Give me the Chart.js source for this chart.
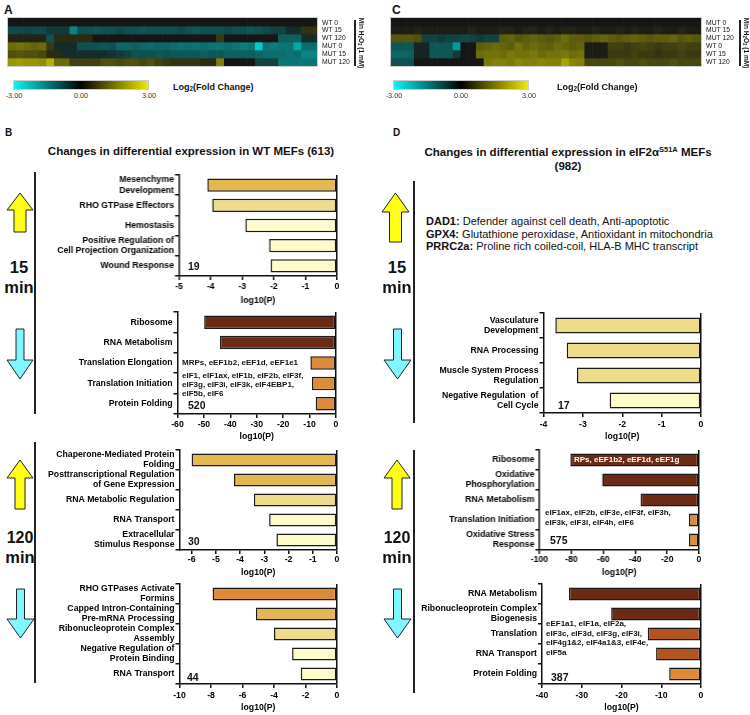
<!DOCTYPE html>
<html>
<head>
<meta charset="utf-8">
<script src="https://cdn.jsdelivr.net/npm/chart.js@4.4.0/dist/chart.umd.min.js"></script>
<style>
body { margin: 0; background: #fff; font-family: "Liberation Sans", Arial, sans-serif; color: #111; }
#fig { position: relative; width: 750px; height: 715px; overflow: hidden; }
#fig canvas { position: absolute; }
.t { position: absolute; white-space: nowrap; line-height: 1; }
.vline { position: absolute; width: 1.5px; background: #222; }
.cbar { position: absolute; height: 10px; border: 1px solid #ccc; box-sizing: border-box;
        background: linear-gradient(to right, #10f4f4, #000 50%, #eeea00); }
sub { font-size: 70%; vertical-align: -1px; }
sup { font-size: 65%; vertical-align: 4px; }
</style>
</head>
<body>
<div id="fig"></div>
<script>
const rowsA = ['WT 0', 'WT 15', 'WT 120', 'MUT 0', 'MUT 15', 'MUT 120'];
const wt0A   = [0,0,0,0,0,0,0,0,0,0, 0,0,0,0,0,0,0,0,0,0, 0,0,0,0,0,0,0,0,0,0, 0,0,0,0,0,0,0,0,0,0];
const wt15A  = [-0.7,-0.7,-0.6,-0.7,-0.7,-0.5,-0.5,-0.5,-1.5,-0.8, -0.8,-0.9,-0.8,-0.8,-0.7,-0.8,-0.8,-0.9,-0.8,-0.8, -0.8,-0.8,-0.7,-0.8,-0.9,-0.8,-0.8,-0.8,-0.7,-0.8, -0.8,-0.9,-0.8,-0.7,-0.6,-0.6,-0.3,-0.3,0.4,0.4];
const wt120A = [0.2,0.2,0.2,0.2,0.2,-0.8,0.3,0.3,0.3,0.3, 0.3,0,0,0,0,0,0,0,0,0, 0,0,0,0,0,0,0,0.5,0,0, 0,0,0,0,0,-1.0,-1.0,-1.0,-0.3,-0.3];
const mut0A  = [1.2,1.3,1.2,1.1,1.2,0.5,-0.3,-0.3,-0.3,-0.8, -0.8,-0.8,-0.9,-0.8,-1.1,-1.1,-1.0,-1.1,-1.2,-1.1, -1.1,-1.2,-1.3,-1.2,-1.3,-1.2,-1.3,-1.3,-1.2,-1.3, -1.4,-1.3,-2.5,-1.3,-1.4,-1.3,-1.3,-2.0,-1.2,-1.2];
const mut15A = [0.8,0.9,0.8,0.8,0.7,0.3,0.3,-0.3,-0.3,-0.3, -0.3,-0.3,-0.3,-0.4,-0.5,-0.6,-0.8,-0.8,-0.8,-0.9, -0.8,-0.9,-0.9,-0.9,-0.9,-1.0,-0.9,-0.9,-1.0,-1.0, -1.0,-1.0,-1.1,-1.2,-1.2,-1.2,-1.3,-1.2,-1.5,-1.5];
const mut120A= [1.8,1.9,1.8,1.8,1.7,2.2,1.2,1.2,0.6,0.6, 0.6,0.6,0.8,0.8,0.7,0.8,0.8,0.7,0.8,0.6, 0.5,0.4,0.4,0.4,0.4,0.3,0.3,1.5,0,0, 0,0,-0.6,-0.6,-0.6,-1.3,-1.3,-1.3,-1.3,-1.3];

const rowsC = ['MUT 0', 'MUT 15', 'MUT 120', 'WT 0', 'WT 15', 'WT 120'];
const mut0C  = [0,0,0,0,0,0,0,0,0,0, 0,0,0,0,0,0,0,0,0,0, 0,0,0,0,0,0,0,0,0,0, 0,0,0,0,0,0,0,0,0,0];
const mut15C = [0.1,0.1,0.1,0.2,0.1,0.1,0.1,0.1,0.1,0.1, 0.2,0.1,0.1,0.1,0.2,0.2,0.1,0.2,0.2,0.1, 0.2,0.1,0.2,0.2,0.1,0.1,0.2,0.1,0.1,0.2, 0.1,0.2,0.1,0.1,0.2,0.1,0.1,0.2,0.1,0.1];
const mut120C= [0.9,0.9,0.9,0.8,-0.6,-0.6,-0.5,-0.6,-0.6,-0.7, -0.6,-0.5,-0.6,-0.6,1.0,1.1,0.9,1.0,1.1,1.0, 0.9,1.0,1.2,1.0,1.0,0.9,1.0,1.1,1.0,0.9, 1.0,1.1,1.0,0.9,1.0,1.0,1.1,0.9,1.0,0.9];
const wt0C   = [-0.9,-0.9,-0.9,-0.2,-0.2,-0.9,-0.9,-0.9,-1.8,0, 0,1.0,1.1,1.2,1.1,1.0,1.3,1.1,1.2,1.1, 1.0,1.2,1.1,1.0,1.1,0.1,0.1,0.1,0.6,0.6, 0.5,0.6,0.7,0.6,0.5,0.6,0.6,0.7,0.6,0.6];
const wt15C  = [-1.1,-1.1,-1.0,-0.2,-0.2,-0.9,-0.9,-0.9,-0.5,0, 0,1.2,1.3,1.3,1.2,1.4,1.3,1.3,1.4,1.2, 1.3,1.3,1.4,1.2,1.3,0.1,0.1,0.1,0.5,0.5, 0.5,0.6,0.5,0.5,0.4,0.5,0.5,0.6,0.5,0.5];
const wt120C = [-0.8,-0.8,-0.8,0,0,0,0,0,0,0, 0,0,1.4,1.5,1.5,1.4,1.6,1.5,1.5,1.6, 1.5,1.5,2.0,1.6,1.5,0.7,0.7,0.7,0.7,0.8, 0.7,0.7,0.8,0.7,0.7,0.7,0.8,0.7,0.7,0.7];

// ---- enrichment bars, log10(P) ----
const GOLD = '#E3B850', PALE = '#EEDC8B', CREAM = '#FEFBCB', BROWN = '#6B2A13', ORANGE = '#DC8B36', RUST = '#B4541E';

const wt15UpTerms = [['Mesenchyme', 'Development'], 'RHO GTPase Effectors', 'Hemostasis', ['Positive Regulation of', 'Cell Projection Organization'], 'Wound Response'];
const wt15UpLogP = [-4.1, -3.95, -2.9, -2.15, -2.1];
const wt15UpColors = [GOLD, PALE, CREAM, CREAM, CREAM];
const wt15UpTicks = [-5, -4, -3, -2, -1, 0];

const wt15DnTerms = ['Ribosome', 'RNA Metabolism', 'Translation Elongation', 'Translation Initiation', 'Protein Folding'];
const wt15DnLogP = [-49.9, -43.9, -9.7, -9.1, -7.7];
const wt15DnColors = [BROWN, BROWN, ORANGE, ORANGE, ORANGE];
const wt15DnTicks = [-60, -50, -40, -30, -20, -10, 0];

const wt120UpTerms = [['Chaperone-Mediated Protein', 'Folding'], ['Posttranscriptional Regulation', 'of Gene Expression'], 'RNA Metabolic Regulation', 'RNA Transport', ['Extracellular', 'Stimulus Response']];
const wt120UpLogP = [-6.0, -4.25, -3.43, -2.8, -2.5];
const wt120UpColors = [GOLD, GOLD, PALE, CREAM, CREAM];
const wt120UpTicks = [-6, -5, -4, -3, -2, -1, 0];

const wt120DnTerms = [['RHO GTPases Activate', 'Formins'], ['Capped Intron-Containing', 'Pre-mRNA Processing'], ['Ribonucleoprotein Complex', 'Assembly'], ['Negative Regulation of', 'Protein Binding'], 'RNA Transport'];
const wt120DnLogP = [-7.9, -5.15, -4.0, -2.85, -2.3];
const wt120DnColors = [ORANGE, GOLD, PALE, CREAM, CREAM];
const wt120DnTicks = [-10, -8, -6, -4, -2, 0];

const mut15DnTerms = [['Vasculature', 'Development'], 'RNA Processing', ['Muscle System Process', 'Regulation'], ['Negative Regulation  of', 'Cell Cycle']];
const mut15DnLogP = [-3.7, -3.41, -3.15, -2.32];
const mut15DnColors = [PALE, PALE, PALE, CREAM];
const mut15DnTicks = [-4, -3, -2, -1, 0];

const mut120UpTerms = ['Ribosome', ['Oxidative', 'Phosphorylation'], 'RNA Metabolism', 'Translation Initiation', ['Oxidative Stress', 'Response']];
const mut120UpLogP = [-80.5, -60.7, -36.6, -6.3, -6.3];
const mut120UpColors = [BROWN, BROWN, BROWN, ORANGE, ORANGE];
const mut120UpTicks = [-100, -80, -60, -40, -20, 0];

const mut120DnTerms = ['RNA Metabolism', ['Ribonucleoprotein Complex', 'Biogenesis'], 'Translation', 'RNA Transport', 'Protein Folding'];
const mut120DnLogP = [-33.2, -22.6, -13.4, -11.3, -8.0];
const mut120DnColors = [BROWN, BROWN, RUST, RUST, ORANGE];
const mut120DnTicks = [-40, -30, -20, -10, 0];

// gene notes and counts
const wt15DnNote = ['MRPs, eEF1b2, eEF1d, eEF1e1'];
const wt15DnNote2 = ['eIF1, eIF1ax, eIF1b, eIF2b, eIF3f,', 'eIF3g, eIF3i, eIF3k, eIF4EBP1,', 'eIF5b, eIF6'];
const mut120UpNote = ['RPs, eEF1b2, eEF1d, eEF1g'];
const mut120UpNote2 = ['eIF1ax, eIF2b, eIF3e, eIF3f, eIF3h,', 'eIF3k, eIF3l, eIF4h, eIF6'];
const mut120DnNote = ['eEF1a1, eIF1a, eIF2a,', 'eIF3c, eIF3d, eIF3g, eIF3i,', 'eIF4g1&2, eIF4a1&3, eIF4e,', 'eIF5a'];
const mut15UpGenes = [['DAD1:', 'Defender against cell death, Anti-apoptotic'], ['GPX4:', 'Glutathione peroxidase, Antioxidant in mitochondria'], ['PRRC2a:', 'Proline rich coiled-coil, HLA-B MHC transcript']];

const fig = document.getElementById('fig');

function put(html, x, y, css, align) {
    const d = document.createElement('div');
    d.className = 't';
    d.innerHTML = html;
    d.style.cssText = css || '';
    d.style.left = x + 'px';
    d.style.top = y + 'px';
    const tx = align === 'c' ? '-50%' : align === 'r' ? '-100%' : '0';
    d.style.transform = 'translate(' + tx + ',-50%)';
    fig.appendChild(d);
    return d;
}

function canvasAt(x, y, w, h) {
    const c = document.createElement('canvas');
    c.width = w; c.height = h;
    c.style.left = x + 'px'; c.style.top = y + 'px';
    c.style.width = w + 'px'; c.style.height = h + 'px';
    fig.appendChild(c);
    return c;
}

function heat(v) {
    const t = Math.min(Math.abs(v) / 3, 1), base = 22;
    if (v < 0) return 'rgb(' + Math.round(base * (1 - t)) + ',' + Math.round(base + (240 - base) * t) + ',' + Math.round(base + (240 - base) * t) + ')';
    return 'rgb(' + Math.round(base + (238 - base) * t) + ',' + Math.round(base + (234 - base) * t) + ',' + Math.round(base * (1 - t)) + ')';
}

function heatmap(x, y, w, h, rows) {
    const c = canvasAt(x, y, w, h);
    c.style.outline = '1px solid #ccc';
    new Chart(c, {
        type: 'bar',
        data: {
            labels: rows[0].map((_, i) => i),
            datasets: rows.map(r => ({ data: r.map(() => 1), backgroundColor: r.map(heat), borderWidth: 0, barPercentage: 1, categoryPercentage: 1 }))
        },
        options: {
            responsive: false, animation: false, events: [],
            layout: { padding: 0 },
            plugins: { legend: { display: false }, tooltip: { enabled: false } },
            scales: {
                x: { display: false, stacked: true },
                y: { display: false, stacked: true, min: 0, max: rows.length, reverse: true }
            }
        }
    });
}

const FS = 8.7;
function enrich(g, terms, values, colors, ticks) {
    const top = 14;
    const ct = g.y0 - top;
    const W = g.x1 - g.cl + 6;
    const H = Math.ceil(g.titleY + 6 - ct);
    const lh = FS * 1.2;
    const font = { size: FS, weight: 'bold', family: 'Liberation Sans' };
    new Chart(canvasAt(g.cl, ct, W, H), {
        type: 'bar',
        data: { labels: terms, datasets: [{ data: values, backgroundColor: colors, borderColor: '#1a1a1a', borderWidth: 1.5, borderSkipped: false, barPercentage: g.bar || 0.66, categoryPercentage: 1 }] },
        options: {
            indexAxis: 'y', responsive: false, animation: false, events: [],
            layout: { padding: { top: top, right: W - (g.x1 - g.cl), bottom: 0, left: 0 } },
            plugins: { legend: { display: false }, tooltip: { enabled: false } },
            scales: {
                x: {
                    min: g.min !== undefined ? g.min : ticks[0], max: 0,
                    afterBuildTicks: s => { s.ticks = ticks.map(v => ({ value: v })); },
                    ticks: { autoSkip: false, color: '#000', padding: g.tickY - g.y1 - 4 - lh / 2, font: font },
                    border: { color: '#111', width: 1.5 },
                    grid: { color: c => (c.tick && c.tick.value === 0) ? '#111' : 'rgba(0,0,0,0)', tickColor: '#111', lineWidth: 1.5, tickLength: 4 },
                    title: { display: true, text: 'log10(P)', color: '#000', padding: { top: 0, bottom: (ct + H) - g.titleY - lh / 2 }, font: font },
                    afterFit: s => { s.height = H - (g.y1 - ct); }
                },
                y: {
                    ticks: { autoSkip: false, color: '#000', padding: 1, font: { size: FS, weight: 'bold', family: 'Liberation Sans', lineHeight: 1.15 } },
                    border: { color: '#111', width: 1.5 },
                    grid: { drawOnChartArea: false, color: '#111', lineWidth: 1.5, tickLength: 4 },
                    afterFit: s => { s.width = g.x0 - g.cl; }
                }
            }
        }
    });
}

function arrow(x, y, w, h, up, head, shaft, fill) {
    const ns = 'http://www.w3.org/2000/svg';
    const svg = document.createElementNS(ns, 'svg');
    svg.setAttribute('width', w + 2); svg.setAttribute('height', h + 2);
    svg.style.cssText = 'position:absolute;left:' + (x - 1) + 'px;top:' + (y - 1) + 'px';
    const cx = w / 2 + 1, s = shaft / 2;
    let pts;
    if (up) pts = [[cx, 1], [w + 1, head + 1], [cx + s, head + 1], [cx + s, h + 1], [cx - s, h + 1], [cx - s, head + 1], [1, head + 1]];
    else pts = [[cx, h + 1], [w + 1, h - head + 1], [cx + s, h - head + 1], [cx + s, 1], [cx - s, 1], [cx - s, h - head + 1], [1, h - head + 1]];
    const p = document.createElementNS(ns, 'polygon');
    p.setAttribute('points', pts.map(q => q.join(',')).join(' '));
    p.setAttribute('fill', fill); p.setAttribute('stroke', '#222'); p.setAttribute('stroke-width', '1');
    svg.appendChild(p);
    fig.appendChild(svg);
}

function vline(x, y0, y1) {
    const d = document.createElement('div');
    d.className = 'vline';
    d.style.left = x + 'px'; d.style.top = y0 + 'px'; d.style.height = (y1 - y0) + 'px';
    fig.appendChild(d);
}

function notes(lines, x, y, step, css) {
    lines.forEach((s, i) => put(s, x, y + i * step, 'font-size:8px;font-weight:bold;' + (css || '')));
}

// ---- panel A and C: heatmaps ----
put('A', 4, 10, 'font-size:12px;font-weight:bold');
put('C', 392, 10, 'font-size:12px;font-weight:bold');
heatmap(8, 18, 309, 48, [wt0A, wt15A, wt120A, mut0A, mut15A, mut120A]);
heatmap(391, 18, 310, 48, [mut0C, mut15C, mut120C, wt0C, wt15C, wt120C]);
rowsA.forEach((r, i) => put(r, 322, 22.5 + i * 7.8, 'font-size:6.8px'));
rowsC.forEach((r, i) => put(r, 706, 22.5 + i * 7.8, 'font-size:6.8px'));
vline(354, 20, 66);
vline(739, 20, 66);
const minA = put('Min H<sub>2</sub>O<sub>2</sub> (1 mM)', 360, 43, 'font-size:6.5px;font-weight:bold', 'c');
minA.style.transform = 'translate(-50%,-50%) rotate(90deg)';
const minC = put('Min H<sub>2</sub>O<sub>2</sub> (1 mM)', 745, 43, 'font-size:6.5px;font-weight:bold', 'c');
minC.style.transform = 'translate(-50%,-50%) rotate(90deg)';

[[13, 173], [393, 557]].forEach(([bx, lx]) => {
    const cb = document.createElement('div');
    cb.className = 'cbar';
    cb.style.left = bx + 'px'; cb.style.top = '80px'; cb.style.width = '136px';
    fig.appendChild(cb);
    put('-3.00', bx + 1, 95.5, 'font-size:7.3px;color:#333', 'c');
    put('0.00', bx + 68, 95.5, 'font-size:7.3px;color:#333', 'c');
    put('3.00', bx + 136, 95.5, 'font-size:7.3px;color:#333', 'c');
    put('Log<sub>2</sub>(Fold Change)', lx, 88, 'font-size:9px;font-weight:bold');
});

// ---- panel B ----
put('B', 5, 133, 'font-size:10px;font-weight:bold');
put('Changes in differential expression in WT MEFs (613)', 191, 152, 'font-size:11.5px;font-weight:bold', 'c');
vline(34, 172, 414);
vline(34, 442, 683);
arrow(7, 193, 26, 39, true, 17, 12, '#FFFF14');
arrow(7, 329, 26, 50, false, 19, 8, '#80F6FF');
arrow(7, 460, 26, 49, true, 18, 10, '#FFFF14');
arrow(7, 589, 27, 49, false, 19, 8, '#80F6FF');
put('15', 19, 267, 'font-size:16.5px;font-weight:bold', 'c');
put('min', 19, 287, 'font-size:16.5px;font-weight:bold', 'c');
put('120', 20, 538, 'font-size:16px;font-weight:bold', 'c');
put('min', 20, 557, 'font-size:16.5px;font-weight:bold', 'c');

enrich({ cl: 40, x0: 178.5, x1: 336.5, y0: 175, y1: 276, tickY: 287, titleY: 301 }, wt15UpTerms, wt15UpLogP, wt15UpColors, wt15UpTicks);
enrich({ cl: 40, x0: 177.5, x1: 336, y0: 312, y1: 414, tickY: 425, titleY: 437 }, wt15DnTerms, wt15DnLogP, wt15DnColors, wt15DnTicks);
enrich({ cl: 40, x0: 179.5, x1: 337, y0: 450, y1: 550, tickY: 560, titleY: 573, min: -6.5 }, wt120UpTerms, wt120UpLogP, wt120UpColors, wt120UpTicks);
enrich({ cl: 40, x0: 179.5, x1: 337, y0: 584, y1: 684, tickY: 696, titleY: 708 }, wt120DnTerms, wt120DnLogP, wt120DnColors, wt120DnTicks);

put('19', 188, 266, 'font-size:10.5px;font-weight:bold');
notes(wt15DnNote, 182, 363, 9);
notes(wt15DnNote2, 182, 376, 9);
put('520', 188, 405, 'font-size:10.5px;font-weight:bold');
put('30', 188, 541, 'font-size:10.5px;font-weight:bold');
put('44', 187, 677, 'font-size:10.5px;font-weight:bold');

// ---- panel D ----
put('D', 393, 133, 'font-size:10px;font-weight:bold');
put('Changes in differential expression in eIF2α<sup>S51A</sup> MEFs', 568, 152, 'font-size:11.5px;font-weight:bold', 'c');
put('(982)', 568, 167, 'font-size:11.5px;font-weight:bold', 'c');
vline(413, 181, 423);
vline(413, 450, 693);
arrow(382, 193, 27, 49, true, 19, 12, '#FFFF14');
arrow(384, 329, 27, 50, false, 19, 8, '#80F6FF');
arrow(384, 460, 26, 49, true, 18, 10, '#FFFF14');
arrow(384, 589, 27, 49, false, 19, 8, '#80F6FF');
put('15', 397, 267, 'font-size:16.5px;font-weight:bold', 'c');
put('min', 397, 287, 'font-size:16.5px;font-weight:bold', 'c');
put('120', 397, 538, 'font-size:16px;font-weight:bold', 'c');
put('min', 397, 557, 'font-size:16.5px;font-weight:bold', 'c');

mut15UpGenes.forEach((g, i) => put('<b>' + g[0] + '</b> ' + g[1], 426, 221 + i * 12.5, 'font-size:11px'));

enrich({ cl: 416, x0: 543.5, x1: 701, y0: 313, y1: 413, tickY: 425, titleY: 437, bar: 0.64 }, mut15DnTerms, mut15DnLogP, mut15DnColors, mut15DnTicks);
enrich({ cl: 416, x0: 539, x1: 698.5, y0: 450, y1: 550, tickY: 560, titleY: 573 }, mut120UpTerms, mut120UpLogP, mut120UpColors, mut120UpTicks);
enrich({ cl: 416, x0: 542, x1: 701, y0: 584, y1: 684, tickY: 696, titleY: 708 }, mut120DnTerms, mut120DnLogP, mut120DnColors, mut120DnTicks);

put('17', 558, 405, 'font-size:10.5px;font-weight:bold');
notes(mut120UpNote, 574, 460, 9, 'color:#fff');
notes(mut120UpNote2, 545, 513, 9.5);
put('575', 550, 540, 'font-size:10.5px;font-weight:bold');
notes(mut120DnNote, 546, 624, 9.7);
put('387', 551, 677, 'font-size:10.5px;font-weight:bold');
</script>
</body>
</html>
